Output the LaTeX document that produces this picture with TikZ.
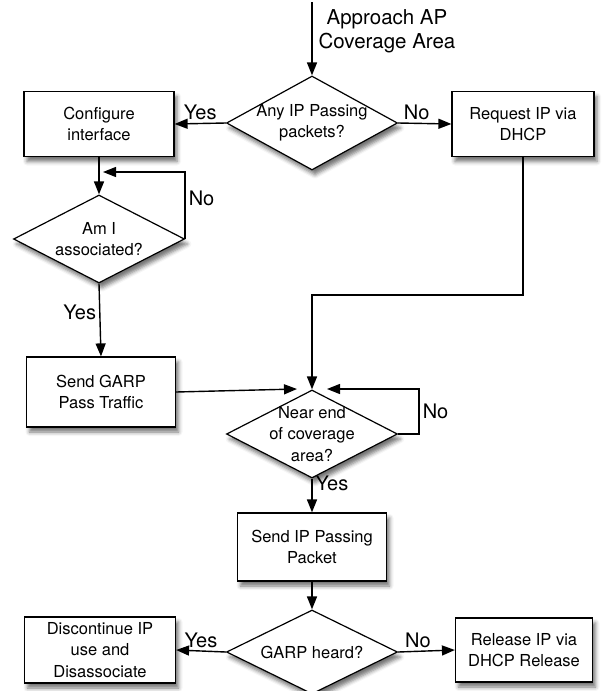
\documentclass[tikz,border=0pt]{standalone}
\usepackage{fontspec}
\setmainfont{TeX Gyre Heros}
\usetikzlibrary{shapes.geometric,arrows.meta,shadows.blur}
\tikzset{
  block/.style={draw, fill=white, line width=1.2pt, align=center, inner sep=2pt,
    font=\fontsize{16.5}{21.5}\selectfont, minimum width=150pt, minimum height=65pt,
    blur shadow={shadow xshift=3pt, shadow yshift=-5pt, shadow blur radius=4pt, shadow opacity=55}},
  decision/.style={diamond, draw, fill=white, line width=1.2pt, align=center, aspect=1.82,
    inner sep=-10pt, font=\fontsize{16.5}{21.5}\selectfont, minimum width=171pt, minimum height=88pt,
    blur shadow={shadow xshift=3pt, shadow yshift=-5pt, shadow blur radius=4pt, shadow opacity=55}},
  answer/.style={font=\fontsize{20}{24}\selectfont, inner sep=3pt},
  link/.style={->, line width=1.4pt}
}
\begin{document}
\begin{tikzpicture}[x=1pt, y=-1pt, >={Triangle[length=13pt, width=10pt]}]
    \useasboundingbox (0,0) rectangle (605,691);
    \coordinate (start) at (312,2);
    \node[align=center, font=\fontsize{20.5}{24}\selectfont] (approach) at (387,31) {Approach AP\\Coverage Area};
    \node[decision, minimum height=94pt] (anyip) at (312,123) {Any IP Passing\\packets?};
    \node[block] (config) at (99,124) {Configure\\interface};
    \node[block, minimum width=142pt] (request) at (523,124) {Request IP via\\DHCP};
    \node[decision] (assoc) at (99,239) {Am I\\associated?};
    \node[block, minimum width=149pt, minimum height=70pt] (garp) at (101,392) {Send GARP\\Pass Traffic};
    \node[decision] (nearend) at (312,434) {Near end\\of coverage\\area?};
    \node[block, minimum width=149pt, minimum height=68pt] (sendip) at (312,547) {Send IP Passing\\Packet};
    \node[decision, minimum height=84pt] (garpheard) at (312,652) {GARP heard?};
    \node[block, minimum width=151pt, minimum height=66pt] (discont) at (100,650) {Discontinue IP\\use and\\Disassociate};
    \node[block, minimum width=137pt, minimum height=64pt] (release) at (524,650) {Release IP via\\DHCP Release};
    \coordinate (assocloop) at (103,172);
    \coordinate (turn) at (312,295);
    \coordinate (nearleft) at (297,389);
    \coordinate (nearright) at (327,389);
    \draw[link] (start) -- (anyip.north);
    \draw[link] (anyip.west) -- node[answer, above] {Yes} (config.east);
    \draw[link] (anyip.east) -- node[answer, above, pos=.35] {No} (request.west);
    \draw[link] (config.south) -- (assoc.north);
    \draw[link] (assoc.east) |- node[answer, right, pos=.3] {No} (assocloop);
    \draw[link] (assoc.south) -- node[answer, left, pos=.4] {Yes} (garp.north);
    \draw[link] (garp.east) -- (nearleft);
    \draw[link] (request.south) |- (turn) -- (nearend.north);
    \draw[link] (nearend.east) -- ++(21,0) |- node[answer, right, pos=.25] {No} (nearright);
    \draw[link] (nearend.south) -- node[answer, right, pos=.15] {Yes} (sendip.north);
    \draw[link] (sendip.south) -- (garpheard.north);
    \draw[link] (garpheard.west) -- node[answer, above] {Yes} (discont.east);
    \draw[link] (garpheard.east) -- node[answer, above, pos=.35] {No} (release.west);
\end{tikzpicture}
\end{document}
